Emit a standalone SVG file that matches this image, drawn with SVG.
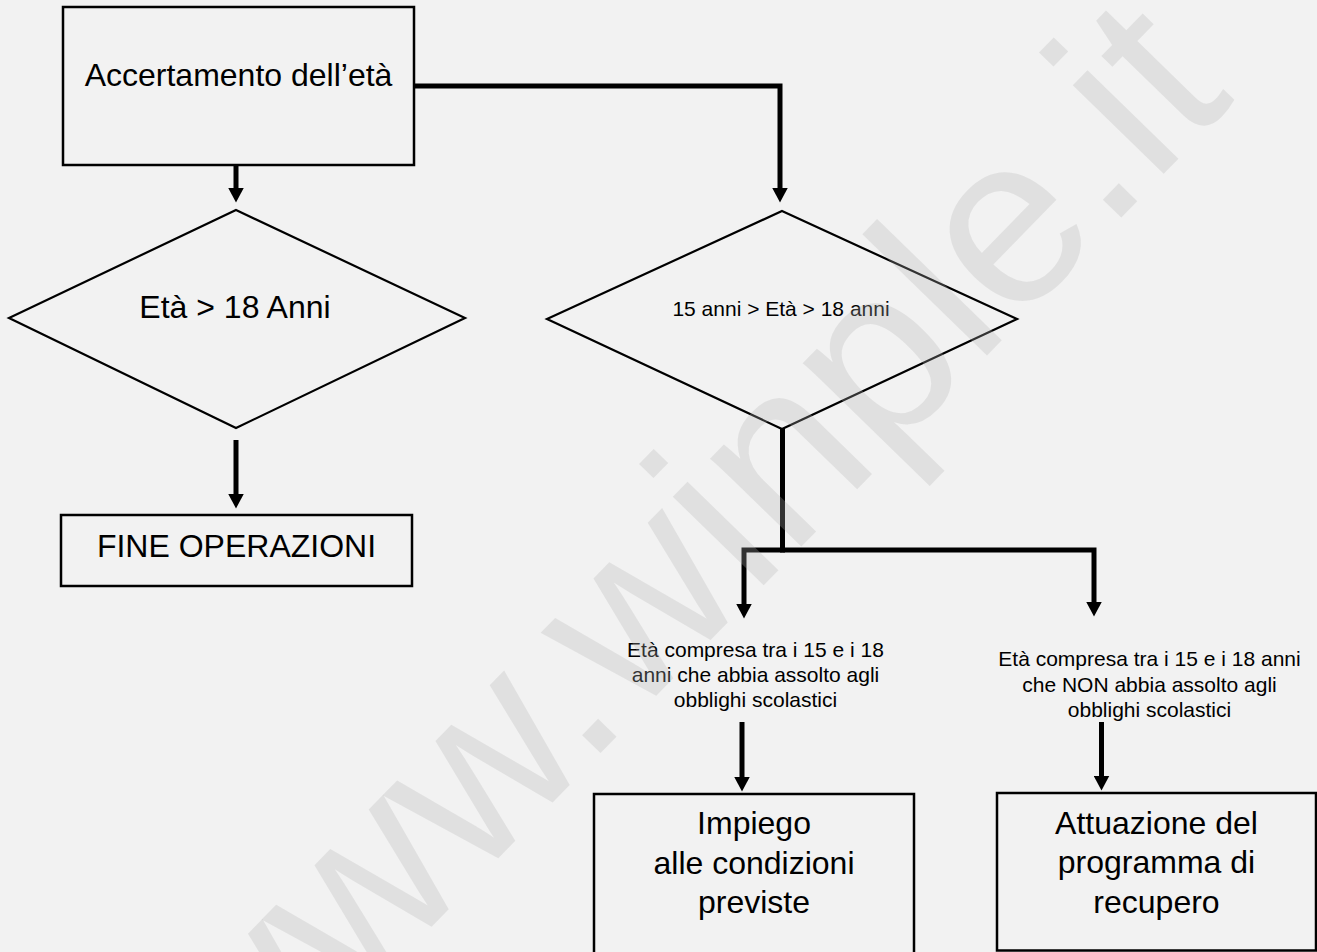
<svg xmlns="http://www.w3.org/2000/svg" width="1317" height="952" viewBox="0 0 1317 952">
  <defs>
    <style>
      .box { fill: none; stroke: #000; stroke-width: 2.5; }
      .dia { fill: none; stroke: #000; stroke-width: 2.2; stroke-linejoin: miter; }
      .conn { fill: none; stroke: #000; stroke-width: 5; stroke-linejoin: miter; stroke-linecap: butt; }
      .t { font-family: "Liberation Sans", Arial, sans-serif; fill: #000; text-anchor: middle; }
      .big { font-size: 32px; }
      .small { font-size: 21px; }
      .wm { font-family: "Liberation Sans", Arial, sans-serif; font-size: 240px; fill: #b4b4b4; fill-opacity: 0.28; }
    </style>
    <marker id="arrow" markerUnits="userSpaceOnUse" markerWidth="15" markerHeight="16" viewBox="0 0 15 16" refX="0.5" refY="8" orient="auto">
      <path d="M0,0 L15,8 L0,16 Z" fill="#000"/>
    </marker>
  </defs>
  <rect x="0" y="0" width="1317" height="952" fill="#f2f2f2"/>

  <g id="node-accertamento">
    <rect class="box" x="63" y="7" width="351" height="158"/>
    <text class="t big" x="238.5" y="86">Accertamento dell’età</text>
  </g>

  <g id="node-eta18">
    <polygon class="dia" points="236,210 465,318 236,428 9,318"/>
    <text class="t big" x="235" y="318">Età &gt; 18 Anni</text>
  </g>

  <g id="node-fine">
    <rect class="box" x="61" y="515" width="351" height="71"/>
    <text class="t big" x="236.5" y="557">FINE OPERAZIONI</text>
  </g>

  <g id="node-eta15-18">
    <polygon class="dia" points="782,211 1017,319 782,429 547,319"/>
    <text class="t small" x="781" y="316">15 anni &gt; Età &gt; 18 anni</text>
  </g>

  <g id="label-assolto">
    <text class="t small" x="755.5" y="657">Età compresa tra i 15 e i 18</text>
    <text class="t small" x="755.5" y="682">anni che abbia assolto agli</text>
    <text class="t small" x="755.5" y="707">obblighi scolastici</text>
  </g>

  <g id="label-non-assolto">
    <text class="t small" x="1149.5" y="666">Età compresa tra i 15 e i 18 anni</text>
    <text class="t small" x="1149.5" y="691.5">che NON abbia assolto agli</text>
    <text class="t small" x="1149.5" y="717">obblighi scolastici</text>
  </g>

  <g id="node-impiego">
    <rect class="box" x="594" y="794" width="320" height="200"/>
    <text class="t big" x="754" y="834">Impiego</text>
    <text class="t big" x="754" y="874">alle condizioni</text>
    <text class="t big" x="754" y="913">previste</text>
  </g>

  <g id="node-recupero">
    <rect class="box" x="997" y="793" width="319" height="157.5"/>
    <text class="t big" x="1156.5" y="834">Attuazione del</text>
    <text class="t big" x="1156.5" y="873">programma di</text>
    <text class="t big" x="1156.5" y="913">recupero</text>
  </g>

  <g id="connectors">
    <path class="conn" d="M236,165 V188" marker-end="url(#arrow)"/>
    <path class="conn" d="M236,440 V494" marker-end="url(#arrow)"/>
    <path class="conn" d="M414,86 H780 V188" marker-end="url(#arrow)"/>
    <path class="conn" d="M782.5,428 V552.5"/>
    <path class="conn" d="M782.5,550 H744 V604" marker-end="url(#arrow)"/>
    <path class="conn" d="M782.5,550 H1094 V602" marker-end="url(#arrow)"/>
    <path class="conn" d="M742,722 V777" marker-end="url(#arrow)"/>
    <path class="conn" d="M1101.5,722 V776" marker-end="url(#arrow)"/>
  </g>

  <text class="wm" x="232" y="1132" transform="rotate(-45.8 232 1132)">www.winple.it</text>
</svg>
